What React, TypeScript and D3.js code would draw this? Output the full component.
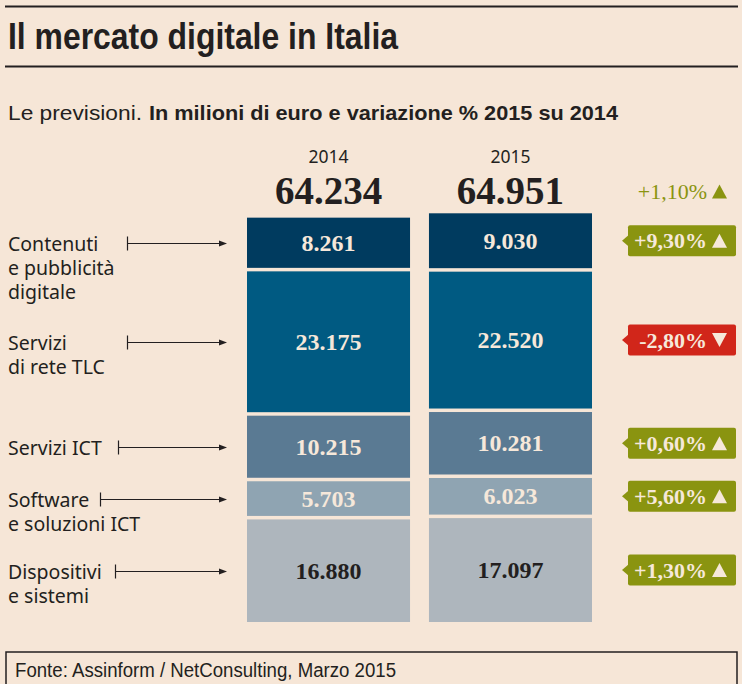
import { useEffect } from "react";
import * as d3 from "d3";

// categories top -> bottom, as they appear in the chart
const categories = [
  "Contenuti e pubblicità digitale",
  "Servizi di rete TLC",
  "Servizi ICT",
  "Software e soluzioni ICT",
  "Dispositivi e sistemi",
];
const labelLines = [
  ["Contenuti", "e pubblicità", "digitale"],
  ["Servizi", "di rete TLC"],
  ["Servizi ICT"],
  ["Software", "e soluzioni ICT"],
  ["Dispositivi", "e sistemi"],
];
const years = ["2014", "2015"];
const values2014 = [8261, 23175, 10215, 5703, 16880];
const values2015 = [9030, 22520, 10281, 6023, 17097];
const totals = [64234, 64951];
const changes = [9.3, -2.8, 0.6, 5.6, 1.3];
const totalChange = 1.1;

// where the little tick of each leader arrow starts (layout only)
const tickStart = [127, 127, 118, 100, 115];

const W = 742;
const H = 684;
const BG = "#f6e6d7";
const INK = "#231f20";
const CREAM = "#f6e8da";
const OLIVE = "#8a9410";
const RED = "#d1261a";
const colors = ["#003b5f", "#005a82", "#5a7a93", "#8fa4b2", "#aeb6bd"];
const textColors = [CREAM, CREAM, CREAM, CREAM, INK];

const SERIF = "'Liberation Serif', 'DejaVu Serif', serif";
const SANS = "'Noto Sans', 'DejaVu Sans', sans-serif";
const NARROW = "'Liberation Sans Narrow', 'Liberation Sans', sans-serif";

const fmtInt = (v: number) => d3.format(",")(v).replace(/,/g, ".");
const fmtPct = (v: number) =>
  (v >= 0 ? "+" : "-") + Math.abs(v).toFixed(2).replace(".", ",") + "%";

const gap = 3.5;
const bottom = 622;

export default function App() {
  useEffect(() => {
    document.body.style.margin = "0";
    document.body.style.background = BG;
  }, []);

  const rows = years.map((yr, i) => {
    const r: any = { year: yr };
    categories.forEach((c, k) => {
      r[c] = i === 0 ? values2014[k] : values2015[k];
    });
    return r;
  });

  // stack from the bottom: last category first
  const keys = categories.slice().reverse();
  const stacked = d3.stack().keys(keys)(rows);

  const x = d3.scaleBand().domain(years).range([247, 592]).paddingInner(0.104);
  const y = d3.scaleLinear().domain([0, 65000]).range([bottom, 227]);

  // segment box for category k (top->bottom index) in year index i
  const seg = (k: number, i: number) => {
    const j = keys.indexOf(categories[k]);
    const d = stacked[j][i];
    const y0 = y(d[0]) - j * gap;
    const y1 = y(d[1]) - j * gap;
    return { top: y1, bot: y0, mid: (y0 + y1) / 2 };
  };

  const tri = (cx: number, cy: number, up: boolean) => {
    const w = 7.5;
    const h = 7;
    return up
      ? `M${cx - w},${cy + h}L${cx + w},${cy + h}L${cx},${cy - h}Z`
      : `M${cx - w},${cy - h}L${cx + w},${cy - h}L${cx},${cy + h}Z`;
  };

  return (
    <svg width={W} height={H} style={{ display: "block", background: BG }}>
      <rect width={W} height={H} fill={BG} />

      {/* title block */}
      <line x1={5} x2={738} y1={6.5} y2={6.5} stroke={INK} strokeWidth={2} />
      <text
        x={8}
        y={49}
        fontFamily={NARROW}
        fontWeight="bold"
        fontSize={36}
        fill={INK}
        textLength={390}
        lengthAdjust="spacingAndGlyphs"
      >
        Il mercato digitale in Italia
      </text>
      <line x1={5} x2={738} y1={66.5} y2={66.5} stroke={INK} strokeWidth={2} />

      <text
        x={8}
        y={120}
        fontFamily={NARROW}
        fontSize={21}
        fill={INK}
        textLength={134}
        lengthAdjust="spacingAndGlyphs"
      >
        Le previsioni.
      </text>
      <text
        x={149}
        y={120}
        fontFamily={NARROW}
        fontWeight="bold"
        fontSize={21}
        fill={INK}
        textLength={469}
        lengthAdjust="spacingAndGlyphs"
      >
        In milioni di euro e variazione % 2015 su 2014
      </text>

      {/* column headers */}
      {years.map((yr, i) => {
        const cx = (x(yr) as number) + x.bandwidth() / 2;
        return (
          <g key={yr}>
            <text
              x={cx}
              y={163}
              textAnchor="middle"
              fontFamily={SANS}
              fontSize={17.5}
              fill={INK}
            >
              {yr}
            </text>
            <text
              x={cx}
              y={204}
              textAnchor="middle"
              fontFamily={SERIF}
              fontWeight="bold"
              fontSize={39}
              fill={INK}
            >
              {fmtInt(totals[i])}
            </text>
          </g>
        );
      })}

      {/* total change */}
      <text
        x={707}
        y={199}
        textAnchor="end"
        fontFamily={SERIF}
        fontSize={22}
        fill={OLIVE}
      >
        {fmtPct(totalChange)}
      </text>
      <path d={tri(719.5, 191.5, totalChange >= 0)} fill={OLIVE} />

      {/* stacked segments */}
      {years.map((yr, i) =>
        categories.map((c, k) => {
          const s = seg(k, i);
          const xv = x(yr) as number;
          return (
            <g key={yr + c}>
              <rect
                x={xv}
                y={s.top}
                width={x.bandwidth()}
                height={s.bot - s.top}
                fill={colors[k]}
              />
              <text
                x={xv + x.bandwidth() / 2}
                y={s.mid + 8}
                textAnchor="middle"
                fontFamily={SERIF}
                fontWeight="bold"
                fontSize={24}
                fill={textColors[k]}
              >
                {fmtInt(i === 0 ? values2014[k] : values2015[k])}
              </text>
            </g>
          );
        })
      )}

      {/* left labels with leader arrows */}
      {categories.map((c, k) => {
        const ay = Math.round(seg(k, 0).mid) + 0.5;
        const x0 = tickStart[k];
        const x1 = 227;
        return (
          <g key={c}>
            {labelLines[k].map((ln, li) => (
              <text
                key={li}
                x={8}
                y={ay + 7 + li * 24}
                fontFamily={SANS}
                fontSize={19.5}
                fill={INK}
              >
                {ln}
              </text>
            ))}
            <line x1={x0} x2={x1 - 6} y1={ay} y2={ay} stroke={INK} strokeWidth={1.2} />
            <line x1={x0 + 0.5} x2={x0 + 0.5} y1={ay - 7} y2={ay + 7} stroke={INK} strokeWidth={1.2} />
            <path d={`M${x1},${ay}L${x1 - 8},${ay - 3}L${x1 - 8},${ay + 3}Z`} fill={INK} />
          </g>
        );
      })}

      {/* change badges */}
      {categories.map((c, k) => {
        const cy = seg(k, 1).mid;
        const up = changes[k] >= 0;
        const fill = up ? OLIVE : RED;
        return (
          <g key={"b" + c}>
            <rect x={628} y={cy - 15.5} width={108} height={31} rx={2} fill={fill} />
            <path d={`M${622},${cy}L${629},${cy - 6}L${629},${cy + 6}Z`} fill={fill} />
            <text
              x={707}
              y={cy + 7.5}
              textAnchor="end"
              fontFamily={SERIF}
              fontWeight="bold"
              fontSize={22}
              fill={CREAM}
            >
              {fmtPct(changes[k])}
            </text>
            <path d={tri(719.5, cy, up)} fill={CREAM} />
          </g>
        );
      })}

      {/* footer */}
      <path d={`M6,${H}V652H737V${H}`} fill="none" stroke={INK} strokeWidth={1.5} />
      <text
        x={15}
        y={677}
        fontFamily={NARROW}
        fontSize={20}
        fill={INK}
        textLength={381}
        lengthAdjust="spacingAndGlyphs"
      >
        Fonte: Assinform / NetConsulting, Marzo 2015
      </text>
    </svg>
  );
}
